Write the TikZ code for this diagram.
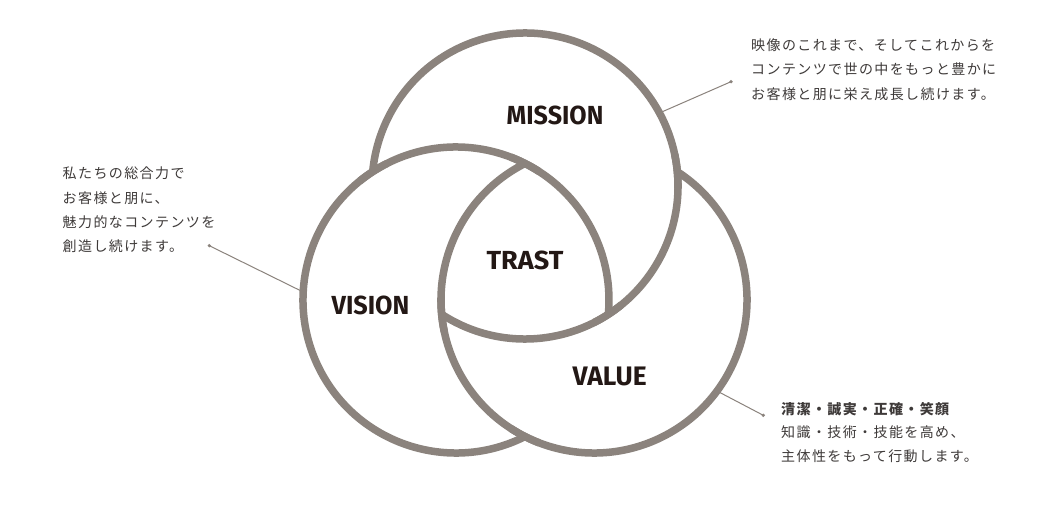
\documentclass[tikz,border=0pt]{standalone}
\usepackage{fontspec}
\usepackage{graphicx}
\newfontfamily\labfont{Fira Sans}
\newfontfamily\jp{Noto Sans CJK JP}[LetterSpace=10]
\definecolor{ring}{RGB}{139,131,125}
\definecolor{labcol}{RGB}{35,24,21}
\definecolor{txtcol}{RGB}{62,58,57}
\begin{document}
\begin{tikzpicture}[x=1pt,y=1pt,
  ringline/.style={draw=ring,line width=7.5pt},
  lab/.style={inner sep=0pt,text=labcol,font=\labfont\bfseries},
  jptxt/.style={inner sep=0pt,anchor=base west,text=txtcol,font=\jp\fontsize{14}{24}\selectfont},
  jpbold/.style={jptxt,font=\jp\bfseries\fontsize{14}{24}\selectfont},
  leader/.style={draw=ring,line width=1pt},
  dotmark/.style={circle,fill=ring,inner sep=0pt,minimum size=3.6pt}]
\useasboundingbox (0,0) rectangle (1050,504);
\fill[white] (0,0) rectangle (1050,504);
\coordinate (M) at (525,318);
\coordinate (V) at (456,204);
\coordinate (L) at (594,204);
\path (M) ++(28.5:153) coordinate (mA);
\path (V) ++(177:153) coordinate (vA);
\path (L) ++(-36.5:153) coordinate (lA);
% dots
\node[dotmark] (d1) at (731,422.3) {};
\node[dotmark] (d2) at (209.3,258.3) {};
\node[dotmark] (d3) at (763.3,88.7) {};
% leaders
\draw[leader] (d1.center) -- (mA);
\draw[leader] (d2.center) -- (vA);
\draw[leader] (d3.center) -- (lA);
% rings
\draw[ringline] (M) ++(237:153) arc[start angle=237,end angle=534.6,radius=153];
\draw[ringline] (V) ++(-63.2:153) arc[start angle=-63.2,end angle=-365.4,radius=153];
\draw[ringline] (L) ++(116.8:153) arc[start angle=116.8,end angle=417,radius=153];
% over-crossing patches
\draw[ringline] (L) ++(179:153) arc[start angle=179,end angle=192,radius=153];
\draw[ringline] (V) ++(117:153) arc[start angle=117,end angle=129,radius=153];
\draw[ringline] (L) ++(237:153) arc[start angle=237,end angle=249,radius=153];
\draw[ringline] (M) ++(-63:153) arc[start angle=-63,end angle=-51,radius=153];
\draw[ringline] (V) ++(57:153) arc[start angle=57,end angle=69,radius=153];
\draw[ringline] (M) ++(-1:153) arc[start angle=-1,end angle=12,radius=153];
% labels
\node[lab] (mission) at (555,388.5) {\resizebox*{96.7pt}{19pt}{MISSION}};
\node[lab] (trast) at (525,243.2) {\resizebox*{76.7pt}{19pt}{TRAST}};
\node[lab] (vision) at (370.5,198.5) {\resizebox*{77.7pt}{19pt}{VISION}};
\node[lab] (value) at (609.7,127.3) {\resizebox*{74pt}{19pt}{VALUE}};
% texts
\node[jptxt] (t1) at (751,453.7) {映像のこれまで、そしてこれからを};
\node[jptxt] (t2) at (751,429.1) {コンテンツで世の中をもっと豊かに};
\node[jptxt] (t3) at (751,404.5) {お客様と朋に栄え成長し続けます。};
\node[jptxt] (s1) at (62.5,325.2) {私たちの総合力で};
\node[jptxt] (s2) at (62.5,300.9) {お客様と朋に、};
\node[jptxt] (s3) at (62.5,276.6) {魅力的なコンテンツを};
\node[jptxt] (s4) at (62.5,252.3) {創造し続けます。};
\node[jpbold] (u1) at (781,89.2) {清潔・誠実・正確・笑顔};
\node[jptxt] (u2) at (781,66.2) {知識・技術・技能を高め、};
\node[jptxt] (u3) at (781,42.9) {主体性をもって行動します。};
\end{tikzpicture}
\end{document}
